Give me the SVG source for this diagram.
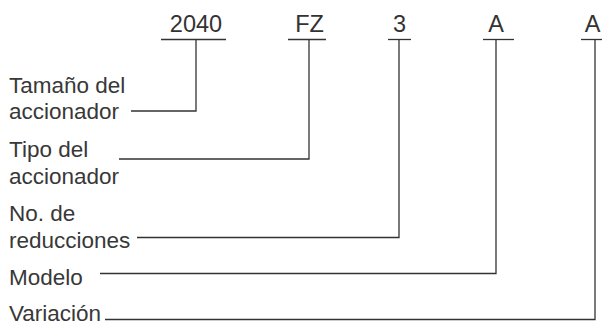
<svg xmlns="http://www.w3.org/2000/svg" width="602" height="325" viewBox="0 0 602 325">
<style>
.t{font-family:"Liberation Sans",Arial,sans-serif;font-size:22.5px;fill:#383838}
.h{font-family:"Liberation Sans",Arial,sans-serif;font-size:23.5px;fill:#333;text-anchor:middle}
.ln{stroke:#333;stroke-width:1.3;fill:none}
</style>
<rect width="602" height="325" fill="#fff"/>
<g id="code-2040"><text class="h" x="196" y="32">2040</text><line class="ln" x1="161" y1="39.5" x2="226" y2="39.5"/></g>
<g id="code-FZ"><text class="h" x="309.5" y="32">FZ</text><line class="ln" x1="288" y1="39.5" x2="326" y2="39.5"/></g>
<g id="code-3"><text class="h" x="399.5" y="32">3</text><line class="ln" x1="388" y1="39.5" x2="411" y2="39.5"/></g>
<g id="code-A1"><text class="h" x="496" y="32">A</text><line class="ln" x1="483" y1="39.5" x2="514" y2="39.5"/></g>
<g id="code-A2"><text class="h" x="592.5" y="32">A</text><line class="ln" x1="581" y1="39.5" x2="602" y2="39.5"/></g>
<g id="label-tamano"><text class="t" x="9" y="93">Tamaño del</text><text class="t" x="9" y="119">accionador</text></g>
<g id="label-tipo"><text class="t" x="9" y="157">Tipo del</text><text class="t" x="9" y="184">accionador</text></g>
<g id="label-reducciones"><text class="t" x="9" y="221">No. de</text><text class="t" x="9" y="248">reducciones</text></g>
<g id="label-modelo"><text class="t" x="9" y="285">Modelo</text></g>
<g id="label-variacion"><text class="t" x="9" y="321">Variación</text></g>
<g id="connectors">
<polyline class="ln" points="131,111 196,111 196,39.5"/>
<polyline class="ln" points="119,159 309,159 309,39.5"/>
<polyline class="ln" points="137,237.5 399,237.5 399,39.5"/>
<polyline class="ln" points="100,273.5 496,273.5 496,39.5"/>
<polyline class="ln" points="105,319.5 595,319.5 595,39.5"/>
</g>
</svg>
